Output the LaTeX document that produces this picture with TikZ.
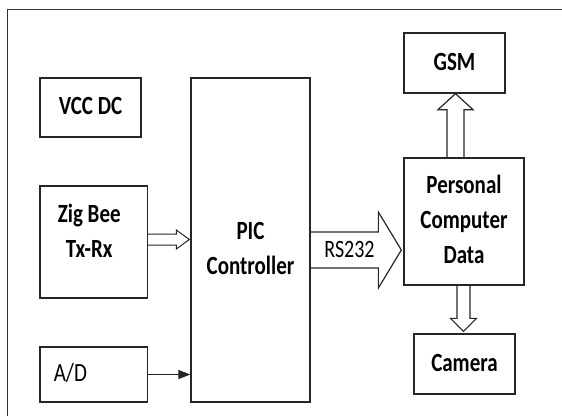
\documentclass[tikz,border=0pt]{standalone}
\usepackage{fontspec}
\setmainfont{Carlito}
\usetikzlibrary{calc,arrows.meta}
\newcommand\tallbox[1]{\scalebox{1}[1.25]{\begin{tabular}{@{}c@{}}#1\end{tabular}}}

\begin{document}
\begin{tikzpicture}[x=1pt,y=-1pt,
	box/.style={draw=black!85, line width=1.3pt, inner sep=0pt},
	lbl/.style={font=\fontsize{21}{28}\selectfont\bfseries, inner sep=0pt},
	thin lbl/.style={font=\fontsize{21}{28}\selectfont, inner sep=0pt},
	pipe/.style={draw=black!85, line width=1.2pt, line join=miter}]
	%%%%% START %%%%%
	
	\useasboundingbox (0,0) rectangle (562,416);
	\draw[line width=1.2pt, black!80] (7.5,416) -- (7.5,9.5) -- (562,9.5);
	
	% blocks
	\node[box, lbl, minimum width=101pt, minimum height=59pt] (vcc) at (90.5,107.5) {\tallbox{VCC DC}};
	\node[box, minimum width=119pt, minimum height=324pt] (pic) at (250.5,240) {};
	\node[lbl] (pictext) at ($(pic)+(0,10)$) {\tallbox{PIC\\Controller}};
	\node[box, lbl, minimum width=101pt, minimum height=60pt] (gsm) at (454.5,63) {\tallbox{GSM}};
	\node[box, minimum width=107.5pt, minimum height=112pt] (zigbee) at (93.75,242) {};
	\node[lbl] (zigtext) at ($(zigbee)+(-4.5,-9)$) {\tallbox{Zig Bee\\Tx-Rx}};
	\node[box, minimum width=107.5pt, minimum height=55pt] (adc) at (93.75,374.5) {};
	\node[thin lbl] (adtext) at ($(adc.west)+(31,0)$) {\tallbox{A/D}};
	\node[box, lbl, minimum width=120pt, minimum height=127pt] (pc) at (464,221.5) {\tallbox{Personal\\Computer\\Data}};
	\node[box, lbl, minimum width=101pt, minimum height=60pt] (camera) at (464.5,364) {\tallbox{Camera}};
	
	% Zig Bee -> PIC
	\coordinate (zgbase) at ($(zigbee.east)+(0,-2.5)$);
	\coordinate (zgtip) at ($(zgbase -| pic.west)+(-1,0)$);
	\draw[pipe, line width=1pt] ($(zgbase)+(0,-5.5)$) -- ($(zgtip)+(-13,-5.5)$) -- ($(zgtip)+(-13,-9.5)$) -- (zgtip)
		-- ($(zgtip)+(-13,9.5)$) -- ($(zgtip)+(-13,5.5)$) -- ($(zgbase)+(0,5.5)$);
	
	% A/D -> PIC
	\draw[-{Triangle[length=12pt,width=9pt]}, line width=1.2pt, black!85] (adc.east) -- (adc.east -| pic.west);
	
	% PIC -> PC (RS232)
	\coordinate (rsbase) at ($(pic.east)+(0,10)$);
	\coordinate (rstip) at ($(rsbase -| pc.west)+(-2,0)$);
	\draw[pipe] ($(rsbase)+(0,-18)$) -- ($(rstip)+(-23,-18)$) -- ($(rstip)+(-23,-38)$) -- (rstip)
		-- ($(rstip)+(-23,38)$) -- ($(rstip)+(-23,18)$) -- ($(rsbase)+(0,18)$);
	\node[thin lbl, font=\fontsize{20}{26}\selectfont] (rs) at (349.5,251) {\tallbox{RS232}};
	
	% PC -> GSM
	\coordinate (gsmtip) at ($(gsm.south)+(1,0)$);
	\draw[pipe] ($(gsmtip |- pc.north)+(-8.5,0)$) -- ($(gsmtip)+(-8.5,16)$) -- ($(gsmtip)+(-17.5,16)$) -- (gsmtip)
		-- ($(gsmtip)+(17.5,16)$) -- ($(gsmtip)+(8.5,16)$) -- ($(gsmtip |- pc.north)+(8.5,0)$);
	
	% PC -> Camera
	\coordinate (camtip) at ($(camera.north)+(-1,-2)$);
	\draw[pipe] ($(camtip |- pc.south)+(-6.5,0)$) -- ($(camtip)+(-6.5,-13)$) -- ($(camtip)+(-13,-13)$) -- (camtip)
		-- ($(camtip)+(13,-13)$) -- ($(camtip)+(6.5,-13)$) -- ($(camtip |- pc.south)+(6.5,0)$);
	
	%%%%% END %%%%%
\end{tikzpicture}
\end{document}
